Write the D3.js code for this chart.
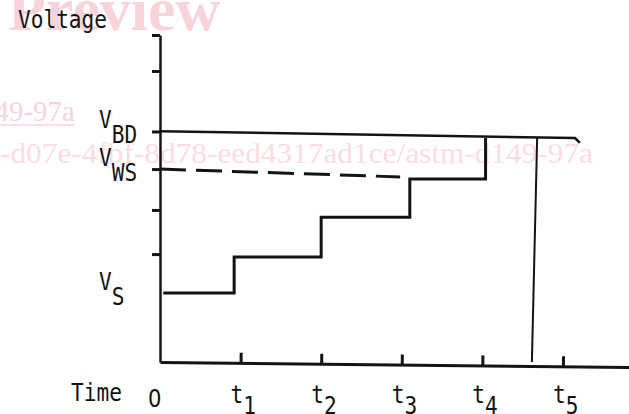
<!DOCTYPE html>
<html>
<head>
<meta charset="utf-8">
<script src="https://cdn.jsdelivr.net/npm/d3@7"></script>
<style>
  body { margin: 0; background: #fff; }
  svg { display: block; }
</style>
</head>
<body>
<div id="container"></div>
<script>
// time ticks on the x axis (t1..t5), voltage ticks on the y axis
let timeTicks = [1, 2, 3, 4, 5];
let timeLabels = ["0", "1", "2", "3", "4", "5"];
let voltTicks = [3.3, 4.65, 5.9, 7.05, 8.9, 10];

// named voltage levels on the left
let levelSubs = ["BD", "WS", "S"];
let levelValues = [7.05, 5.9, 2.11];

// applied voltage, stepped up at each time
let stepTimes = [0.04, 0.92, 2.0, 3.1, 4.04];
let stepVolts = [2.11, 3.21, 4.43, 5.6, 6.85];

// breakdown voltage line (slightly falling, hook at the end)
let bdTimes = [0, 5.15, 5.21];
let bdVolts = [7.06, 6.85, 6.7];

// withstand voltage, dashed
let wsTimes = [0, 2.98];
let wsVolts = [5.9, 5.66];

// drop at breakdown
let dropTimes = [4.68, 4.615];
let dropVolts = [6.85, 0];

let w = 629;
let h = 414;

let viz = d3.select("#container")
  .append("svg")
    .attr("width", w)
    .attr("height", h)
    .style("background-color", "white");

// preview watermark behind the drawing
let pink = "#f9d3dc";
viz.append("text")
    .text("Preview")
    .attr("x", 8)
    .attr("y", 30)
    .style("font-family", "Liberation Serif")
    .style("font-weight", "bold")
    .style("font-size", "62px")
    .style("fill", pink);
viz.append("text")
    .text("astm-d149-97a")
    .attr("x", 75)
    .attr("y", 121)
    .attr("text-anchor", "end")
    .style("font-family", "Liberation Serif")
    .style("font-size", "29px")
    .style("fill", pink);
viz.append("line")
    .attr("x1", 0).attr("x2", 75)
    .attr("y1", 125).attr("y2", 125)
    .style("stroke", pink)
    .style("stroke-width", 1.5);
viz.append("text")
    .text("-d07e-4fbf-8d78-eed4317ad1ce/astm-d149-97a")
    .attr("x", 0)
    .attr("y", 163)
    .attr("textLength", 593)
    .attr("lengthAdjust", "spacingAndGlyphs")
    .style("font-family", "Liberation Serif")
    .style("font-size", "29px")
    .style("fill", "#fbdde3");

let xScale = d3.scaleLinear().domain([0, 5.82]).range([160, 629]);
let yScale = d3.scaleLinear().domain([0, 10]).range([362, 35]);

let font = "DejaVu Sans Mono";
let ink = "#141414";

// y axis
let yAxis = d3.axisLeft(yScale)
  .tickValues(voltTicks)
  .tickSize(8)
  .tickSizeOuter(0)
  .tickFormat("");
let yg = viz.append("g")
    .attr("transform", "translate(" + xScale(0) + ",0)")
    .call(yAxis);
yg.select(".domain").style("stroke", ink).style("stroke-width", 2.5);
yg.selectAll(".tick line").style("stroke", ink).style("stroke-width", 3);

// x axis, ticks pointing up, the hand drawn line falls a little to the right
let xAxis = d3.axisBottom(xScale)
  .tickValues(timeTicks)
  .tickSize(-10)
  .tickSizeOuter(0)
  .tickFormat("");
let xg = viz.append("g")
    .attr("transform", "translate(0," + yScale(0) + ") rotate(0.6," + xScale(0) + ",0)")
    .call(xAxis);
xg.select(".domain").style("stroke", ink).style("stroke-width", 3);
xg.selectAll(".tick line").style("stroke", ink).style("stroke-width", 3);

function pts(ts, vs) {
  return ts.map(function(t, i) { return [t, vs[i]]; });
}
let lineGen = d3.line()
  .x(function(d) { return xScale(d[0]); })
  .y(function(d) { return yScale(d[1]); });

viz.append("path")
    .attr("d", lineGen(pts(bdTimes, bdVolts)))
    .style("fill", "none")
    .style("stroke", ink)
    .style("stroke-width", 2.5);

viz.append("path")
    .attr("d", lineGen(pts(wsTimes, wsVolts)))
    .style("fill", "none")
    .style("stroke", ink)
    .style("stroke-width", 3)
    .style("stroke-dasharray", "26,10");

viz.append("path")
    .attr("d", lineGen.curve(d3.curveStepAfter)(pts(stepTimes, stepVolts)))
    .style("fill", "none")
    .style("stroke", ink)
    .style("stroke-width", 3);
lineGen.curve(d3.curveLinear);

viz.append("path")
    .attr("d", lineGen(pts(dropTimes, dropVolts)))
    .style("fill", "none")
    .style("stroke", ink)
    .style("stroke-width", 2);

// labels: typewriter lettering is tall and narrow, so squeeze the mono font
function label(x, y, txt) {
  return viz.append("text")
      .attr("transform", "translate(" + x + "," + y + ") scale(0.88,1)")
      .text(txt)
      .style("font-family", font)
      .style("font-size", "24px")
      .style("fill", ink);
}

label(18, 28, "Voltage");
label(71, 401, "Time");

levelSubs.forEach(function(s, i) {
  let y = yScale(levelValues[i]);
  let t = label(99, y - 3, "V");
  t.append("tspan")
      .attr("dy", 15)
      .text(s);
});

timeLabels.forEach(function(s, i) {
  let x = xScale(i);
  if (i == 0) {
    // plain zero, no dot in the middle
    label(x - 12, 407, s).style("font-family", "DejaVu Sans");
  } else {
    let t = label(x - 10, 403, "t");
    t.append("tspan")
        .attr("dy", 11)
        .text(s);
  }
});
</script>
</body>
</html>
